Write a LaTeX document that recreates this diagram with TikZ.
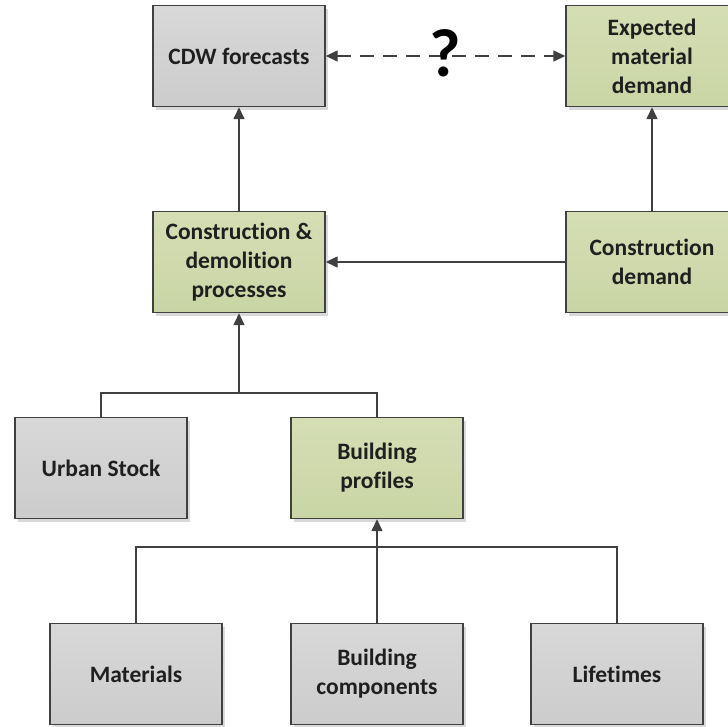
\documentclass[tikz,border=0pt]{standalone}
\usepackage{fontspec}
\setmainfont[RawFeature={-liga;-calt;-clig;-dlig}]{Carlito}
\usetikzlibrary{shadows,arrows.meta}
\definecolor{edge}{RGB}{64,64,64}
\definecolor{graytop}{RGB}{216,216,216}
\definecolor{graybot}{RGB}{204,204,204}
\definecolor{greentop}{RGB}{213,222,180}
\definecolor{greenbot}{RGB}{202,213,165}
\begin{document}
\begin{tikzpicture}[x=1pt,y=-1pt,
  box/.style={draw=edge, line width=1.4pt, minimum width=172pt, minimum height=101pt,
    inner sep=0pt, align=center, font=\fontsize{23.5}{29}\selectfont\bfseries, text=black!88,
    drop shadow={shadow xshift=3pt, shadow yshift=-3pt, fill=black, opacity=0.15}},
  graybox/.style={box, top color=graytop, bottom color=graybot},
  greenbox/.style={box, top color=greentop, bottom color=greenbot},
  conn/.style={draw=edge, line width=1.4pt},
  arr/.style={conn, -{Triangle[length=12pt,width=11pt]}},
]
\clip (0,0) rectangle (728,726);
\fill[white] (0,0) rectangle (728,726);

\node[graybox]  (cdw)   at (239,56)  {CDW forecasts};
\node[greenbox] (exp)   at (652,56)  {Expected\\material\\demand};
\node[greenbox] (cdp)   at (239,262) {Construction \&\\demolition\\processes};
\node[greenbox] (cd)    at (652,262) {Construction\\demand};
\node[graybox]  (urban) at (101,468) {Urban Stock};
\node[greenbox] (bp)    at (377,468) {Building\\profiles};
\node[graybox]  (mat)   at (136,674) {Materials};
\node[graybox]  (bc)    at (377,674) {Building\\components};
\node[graybox]  (life)  at (617,674) {Lifetimes};

\coordinate (j1) at (239,393);
\coordinate (j2) at (377,547);

% dashed double arrow with question mark
\draw[conn, dash pattern=on 14pt off 9pt,
  {Triangle[length=12pt,width=11pt]}-{Triangle[length=12pt,width=11pt]}]
  (cdw.east) -- (exp.west);
\node[font=\fontsize{68}{68}\selectfont\bfseries, inner sep=0pt] (q) at (445,53) {?};

\draw[arr] (cdp.north) -- (cdw.south);
\draw[arr] (cd.north) -- (exp.south);
\draw[arr] (cd.west) -- (cdp.east);

\draw[conn] (urban.north) |- (j1) -| (bp.north);
\draw[arr] (j1) -- (cdp.south);

\draw[conn] (mat.north) |- (j2) -| (life.north);
\draw[arr] (bc.north) -- (bp.south);
\end{tikzpicture}
\end{document}
